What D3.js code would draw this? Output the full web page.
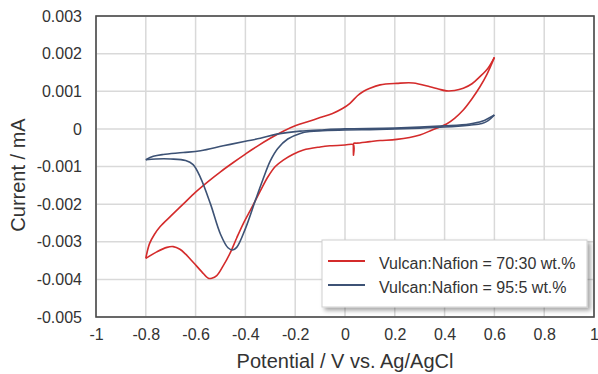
<!DOCTYPE html>
<html>
<head>
<meta charset="utf-8">
<script src="https://cdn.jsdelivr.net/npm/d3@7"></script>
<style>
  html, body { margin: 0; padding: 0; background: #fff; }
  text { font-family: "Liberation Sans", Arial, sans-serif; fill: #333; }
</style>
</head>
<body>
<script>
// potential (V) / current values
const redCathodic = [
  [0.600, 0.00190], [0.570, 0.00145], [0.542, 0.00112], [0.510, 0.00080], [0.475, 0.00050],
  [0.440, 0.00028], [0.408, 0.00013], [0.350, -0.00003], [0.301, -0.00016], [0.208, -0.00028],
  [0.141, -0.00031], [0.100, -0.00034], [0.047, -0.00038], [0.036, -0.00038], [0.0345, -0.00039],
  [0.034, -0.00070], [0.0335, -0.00042], [0.000, -0.00043], [-0.060, -0.00045], [-0.100, -0.00048],
  [-0.167, -0.00056], [-0.210, -0.00068], [-0.248, -0.00083], [-0.280, -0.00100], [-0.310, -0.00128],
  [-0.340, -0.00165], [-0.375, -0.00210], [-0.408, -0.00251], [-0.435, -0.00290], [-0.462, -0.00331],
  [-0.490, -0.00365], [-0.515, -0.00390], [-0.535, -0.00397], [-0.549, -0.00397], [-0.575, -0.00380],
  [-0.609, -0.00355], [-0.640, -0.00333], [-0.663, -0.00320], [-0.690, -0.00313], [-0.715, -0.00315],
  [-0.756, -0.00327], [-0.800, -0.00344]
];
const redAnodic = [
  [-0.800, -0.00344], [-0.785, -0.00305], [-0.765, -0.00280], [-0.743, -0.00260], [-0.700, -0.00232],
  [-0.650, -0.00200], [-0.600, -0.00168], [-0.550, -0.00140], [-0.500, -0.00114], [-0.450, -0.00090],
  [-0.400, -0.00067], [-0.350, -0.00045], [-0.300, -0.00025], [-0.250, -0.00007], [-0.200, 0.00008],
  [-0.150, 0.00019], [-0.100, 0.00030], [-0.050, 0.00041], [-0.010, 0.00054], [0.020, 0.00068],
  [0.050, 0.00088], [0.075, 0.00100], [0.100, 0.00108], [0.141, 0.00117], [0.208, 0.00121],
  [0.274, 0.00122], [0.341, 0.00112], [0.375, 0.00106], [0.408, 0.00101], [0.440, 0.00102],
  [0.475, 0.00108], [0.510, 0.00120], [0.542, 0.00139], [0.575, 0.00162], [0.600, 0.00190]
];
const blueCathodic = [
  [0.600, 0.00037], [0.575, 0.00022], [0.550, 0.00014], [0.500, 0.00010], [0.400, 0.00005],
  [0.300, 0.00002], [0.200, 0.00000], [0.100, -0.00002], [0.000, -0.00003], [-0.090, -0.00005],
  [-0.140, -0.00007], [-0.180, -0.00012], [-0.230, -0.00027], [-0.270, -0.00052], [-0.300, -0.00085],
  [-0.330, -0.00135], [-0.360, -0.00190], [-0.400, -0.00265], [-0.435, -0.00315], [-0.452, -0.00322],
  [-0.470, -0.00316], [-0.500, -0.00280], [-0.540, -0.00200], [-0.580, -0.00130], [-0.610, -0.00095],
  [-0.640, -0.00084], [-0.700, -0.00080], [-0.760, -0.00080], [-0.800, -0.00082]
];
const blueAnodic = [
  [-0.800, -0.00082], [-0.770, -0.00073], [-0.730, -0.00068], [-0.650, -0.00063], [-0.580, -0.00058],
  [-0.489, -0.00045], [-0.400, -0.00033], [-0.340, -0.00025], [-0.274, -0.00014], [-0.180, -0.00006],
  [-0.100, -0.00003], [0.000, 0.00000], [0.200, 0.00002], [0.400, 0.00008], [0.500, 0.00013],
  [0.550, 0.00020], [0.600, 0.00037]
];

const xTicks = [-1, -0.8, -0.6, -0.4, -0.2, 0, 0.2, 0.4, 0.6, 0.8, 1];
const yTicks = [-0.005, -0.004, -0.003, -0.002, -0.001, 0, 0.001, 0.002, 0.003];
const seriesNames = ["Vulcan:Nafion = 70:30 wt.%", "Vulcan:Nafion = 95:5 wt.%"];
const seriesColors = ["#d42b2b", "#3d5275"];

const width = 598, height = 374;
const margin = { top: 16, right: 4, bottom: 57, left: 96 };

const svg = d3.select("body").append("svg")
    .attr("width", width)
    .attr("height", height);

svg.append("rect").attr("width", width).attr("height", height).attr("fill", "#fff");

const x = d3.scaleLinear().domain([-1, 1]).range([margin.left, width - margin.right]);
const y = d3.scaleLinear().domain([-0.005, 0.003]).range([height - margin.bottom, margin.top]);

// grid
const grid = svg.append("g");
grid.selectAll(".gx").data(xTicks).join("line")
    .attr("x1", d => x(d)).attr("x2", d => x(d))
    .attr("y1", y.range()[1]).attr("y2", y.range()[0])
    .attr("stroke", "#d9d9d9").attr("stroke-width", 1.5);
grid.selectAll(".gy").data(yTicks).join("line")
    .attr("x1", x.range()[0]).attr("x2", x.range()[1])
    .attr("y1", d => y(d)).attr("y2", d => y(d))
    .attr("stroke", "#d9d9d9").attr("stroke-width", 1.5);

// axes (labels only, the frame is drawn below)
const xAxis = d3.axisBottom(x).tickValues(xTicks).tickSize(0).tickPadding(12).tickFormat(d => String(d));
const yAxis = d3.axisLeft(y).tickValues(yTicks).tickSize(0).tickPadding(14)
    .tickFormat(d => d === 0 ? "0" : d.toFixed(3));

const gx = svg.append("g").attr("transform", `translate(0,${y.range()[0]})`).call(xAxis);
const gy = svg.append("g").attr("transform", `translate(${x.range()[0]},0)`).call(yAxis);
[gx, gy].forEach(g => {
    g.select(".domain").remove();
    g.selectAll("text").attr("font-size", 16).attr("fill", "#333")
        .attr("font-family", "'Liberation Sans', Arial, sans-serif");
});

// curves
const line = d3.line()
    .x(d => x(d[0]))
    .y(d => y(d[1]))
    .curve(d3.curveCatmullRom.alpha(0.5));

const curves = [[redCathodic, redAnodic], [blueCathodic, blueAnodic]];
curves.forEach((branches, i) => {
    branches.forEach(b => {
        svg.append("path")
            .attr("d", line(b))
            .attr("fill", "none")
            .attr("stroke", seriesColors[i])
            .attr("stroke-width", 1.6)
            .attr("stroke-linejoin", "round");
    });
});

// frame
svg.append("rect")
    .attr("x", x.range()[0]).attr("y", y.range()[1])
    .attr("width", x.range()[1] - x.range()[0])
    .attr("height", y.range()[0] - y.range()[1])
    .attr("fill", "none").attr("stroke", "#4a4a4a").attr("stroke-width", 1.6);

// axis titles
svg.append("text")
    .attr("x", (x.range()[0] + x.range()[1]) / 2)
    .attr("y", 368)
    .attr("text-anchor", "middle")
    .attr("font-size", 20)
    .text("Potential / V vs. Ag/AgCl");
svg.append("text")
    .attr("transform", "translate(25,175) rotate(-90)")
    .attr("text-anchor", "middle")
    .attr("font-size", 20)
    .text("Current / mA");

// legend
const defs = svg.append("defs");
const shadow = defs.append("filter").attr("id", "shadow")
    .attr("x", "-10%").attr("y", "-10%").attr("width", "130%").attr("height", "140%");
shadow.append("feDropShadow")
    .attr("dx", 3).attr("dy", 3).attr("stdDeviation", 2)
    .attr("flood-color", "#000").attr("flood-opacity", 0.35);

const legend = svg.append("g").attr("transform", "translate(322,240)");
legend.append("rect")
    .attr("width", 265).attr("height", 67)
    .attr("fill", "#fff").attr("stroke", "#d0d0d0").attr("stroke-width", 1)
    .attr("filter", "url(#shadow)");
seriesNames.forEach((name, i) => {
    const row = legend.append("g").attr("transform", `translate(0,${21 + i * 24})`);
    row.append("line")
        .attr("x1", 6).attr("x2", 43)
        .attr("stroke", seriesColors[i]).attr("stroke-width", 2);
    row.append("text")
        .attr("x", 57).attr("y", 8)
        .attr("font-size", 16)
        .text(name);
});
</script>
</body>
</html>
